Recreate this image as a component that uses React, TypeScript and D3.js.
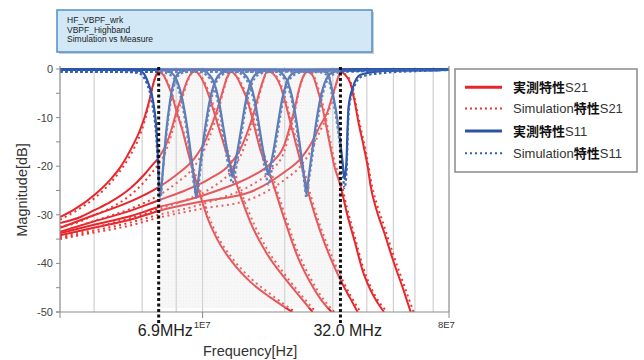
import React from 'react';
import * as d3 from 'd3';

type Pt = [number, number];

// frequency in MHz, magnitude in dB
const s21Meas1: Pt[] = [[3.0,-30.5],[3.41,-28.8],[4.03,-25.8],[4.58,-22.8],[4.98,-20.3],[5.42,-16.8],[5.9,-12.5],[6.16,-9.5],[6.42,-5.8],[6.58,-3.2],[6.75,-1.3],[6.92,-0.6],[7.17,-1.2],[7.41,-2.8],[7.73,-5.5],[8.0,-8.5],[8.42,-12.5],[8.78,-16.5],[9.39,-22.5],[9.8,-26],[10.4,-30.5],[11.3,-35],[12.95,-40],[14.96,-43.8],[17.71,-47],[21.3,-50]];
const s21Sim1: Pt[] = [[3.0,-31],[3.41,-29.3],[4.03,-26.5],[4.58,-23.5],[4.98,-21],[5.42,-17.8],[5.9,-13.5],[6.16,-10.3],[6.42,-6.2],[6.58,-3.4],[6.75,-1.3],[6.92,-0.5],[7.17,-1.0],[7.41,-2.5],[7.73,-5.0],[8.0,-8.0],[8.42,-12.0],[8.78,-15.8],[9.39,-21.5],[9.8,-25],[10.4,-29.5],[11.3,-34.2],[12.95,-39.2],[14.96,-43],[17.71,-46.3],[21.8,-50]];

const s21Meas2: Pt[] = [[3.0,-31.7],[3.55,-30.5],[4.03,-29.0],[4.58,-27.4],[5.42,-24.6],[6.16,-21.5],[6.42,-20.3],[6.9,-18.2],[7.29,-16],[7.73,-12],[8.0,-9],[8.42,-5.3],[8.78,-2.4],[9.08,-0.9],[9.39,-0.5],[9.72,-1.2],[10.22,-3.5],[10.67,-6.4],[11.3,-11],[12.11,-16.5],[12.95,-21.5],[13.74,-26],[14.96,-31.5],[17.2,-38],[19.96,-43],[22.83,-47],[25.3,-50]];
const s21Sim2: Pt[] = [[3.0,-32.5],[3.55,-31.4],[4.03,-30.0],[4.58,-28.6],[5.42,-26],[6.16,-23],[6.42,-21.8],[6.9,-19.5],[7.29,-17.2],[7.73,-13],[8.0,-10],[8.42,-6],[8.78,-2.8],[9.08,-1.0],[9.39,-0.4],[9.72,-0.9],[10.22,-3],[10.67,-5.6],[11.3,-10],[12.11,-15.3],[12.95,-20.2],[13.74,-24.8],[14.96,-30.2],[17.2,-37],[19.96,-42.2],[22.83,-46.3],[26.0,-50]];

const s21Meas3: Pt[] = [[3.0,-32.7],[4.03,-30.0],[5.42,-27.3],[6.9,-24.3],[8.0,-21.8],[9.39,-18.2],[10.22,-14.8],[10.85,-11.2],[11.42,-7.6],[11.91,-4.1],[12.32,-1.6],[12.74,-0.6],[13.29,-1.5],[13.86,-3.5],[14.58,-6.4],[15.34,-11],[16.28,-16.7],[17.71,-22],[19.96,-31],[22.25,-38.5],[24.84,-44],[27.03,-47.3],[29.67,-50]];
const s21Sim3: Pt[] = [[3.0,-33.6],[4.03,-31.2],[5.42,-28.8],[6.9,-26],[8.0,-23.5],[9.39,-19.8],[10.22,-16.2],[10.85,-12.4],[11.42,-8.4],[11.91,-4.6],[12.32,-1.8],[12.74,-0.5],[13.29,-1.2],[13.86,-3.0],[14.58,-5.8],[15.34,-10],[16.28,-15.5],[17.71,-20.8],[19.96,-29.8],[22.25,-37.4],[24.84,-43],[27.03,-46.5],[30.4,-50]];

const s21Meas4: Pt[] = [[3.0,-33.5],[4.03,-31.3],[5.42,-29.2],[6.9,-27],[8.63,-25],[10.67,-22.5],[12.63,-19.5],[13.74,-16.5],[14.7,-12.5],[15.5,-8.5],[16.1,-5],[16.7,-2.2],[17.1,-0.8],[17.6,-0.6],[18.48,-1.5],[19.28,-3.5],[20.11,-7],[21.3,-12.5],[22.83,-19],[24.84,-27],[27.03,-33.5],[30,-40],[32.4,-44],[34.84,-47.3],[37.0,-50]];
const s21Sim4: Pt[] = [[3.0,-34.6],[4.03,-32.6],[5.42,-30.7],[6.9,-28.8],[8.63,-27],[10.67,-24.6],[12.63,-21.2],[13.74,-18],[14.7,-13.8],[15.5,-9.4],[16.1,-5.6],[16.7,-2.5],[17.1,-0.8],[17.6,-0.5],[18.48,-1.2],[19.28,-3.0],[20.11,-6.2],[21.3,-11.4],[22.83,-17.8],[24.84,-25.8],[27.03,-32.4],[30,-39],[32.4,-43.2],[34.84,-46.6],[37.9,-50]];

const s21Meas5: Pt[] = [[3.0,-33.8],[4.03,-32],[5.42,-30.3],[6.9,-28.4],[9.01,-26.8],[11.61,-24.8],[14.96,-22.2],[17.71,-19.5],[19.96,-15.5],[20.98,-11.5],[21.88,-7.5],[22.6,-4],[23.4,-1.5],[24.2,-0.6],[25.3,-1.3],[26.3,-4],[27.5,-8],[28.9,-14],[30.4,-20],[32.0,-24],[33.9,-30],[36.3,-36],[38.6,-41.5],[41.26,-45.5],[46.2,-50]];
const s21Sim5: Pt[] = [[3.0,-34.8],[4.03,-33.2],[5.42,-31.6],[6.9,-30],[9.01,-28.5],[11.61,-26.6],[14.96,-24],[17.71,-21],[19.96,-16.8],[20.98,-12.5],[21.88,-8.2],[22.6,-4.4],[23.4,-1.6],[24.2,-0.5],[25.3,-1.0],[26.3,-3.3],[27.5,-7],[28.9,-12.8],[30.4,-18.8],[32.0,-22.8],[33.9,-28.8],[36.3,-35],[38.6,-40.5],[41.26,-44.8],[47.5,-50]];

const s21Meas6: Pt[] = [[3.0,-34.2],[4.03,-32.6],[5.42,-31],[6.9,-29.2],[9.8,-27.3],[14.96,-25.3],[19.96,-21.2],[22.83,-18.5],[24.84,-15.6],[27.03,-11.5],[28.7,-8.8],[29.9,-5.5],[30.69,-3.5],[31.47,-1.5],[32.28,-0.6],[33.4,-1.3],[34.84,-3],[36.02,-6.5],[37.27,-11],[38.96,-16],[40.4,-20.5],[41.26,-24],[43.4,-29],[46.2,-33.5],[50,-39.5],[54.5,-45.5],[57.9,-50]];
const s21Sim6: Pt[] = [[3.0,-35],[4.03,-33.6],[5.42,-32.2],[6.9,-30.6],[9.8,-28.8],[14.96,-26.8],[19.96,-22.8],[22.83,-20],[24.84,-17],[27.03,-12.6],[28.7,-9.5],[29.9,-6],[30.69,-3.8],[31.47,-1.6],[32.28,-0.5],[33.4,-1.1],[34.84,-2.6],[36.02,-5.8],[37.27,-10],[38.96,-15],[40.4,-19.4],[41.26,-22.6],[43.4,-27.6],[46.2,-32.2],[50,-38.2],[54.5,-44.2],[59.3,-50]];

const s11Meas1: Pt[] = [[3,-0.1],[5,-0.2],[5.9,-0.4],[6.3,-2.7],[6.59,-6.8],[6.76,-12],[6.87,-19],[6.99,-26],[7.17,-20],[7.35,-13],[7.6,-6.5],[7.86,-2.5],[8.28,-0.6],[9,-0.2],[20,-0.1],[80,0]];
const s11Sim1: Pt[] = [[3,-0.5],[5,-0.6],[5.8,-0.8],[6.25,-3],[6.55,-7.5],[6.74,-13],[6.86,-20],[6.99,-27],[7.15,-21],[7.35,-14],[7.62,-7],[7.9,-3],[8.35,-0.9],[9.2,-0.5],[20,-0.4],[80,-0.2]];
const s11Meas2: Pt[] = [[3,-0.1],[7.0,-0.2],[7.67,-0.8],[8.13,-3],[8.41,-6],[8.78,-12],[9.08,-18],[9.31,-23],[9.47,-26.5],[9.63,-23],[9.88,-18],[10.22,-12],[10.66,-6],[11.03,-3],[11.7,-0.8],[12.73,-0.3],[80,0]];
const s11Sim2: Pt[] = [[3,-0.5],[7.0,-0.6],[7.6,-1.2],[8.1,-3.6],[8.38,-6.8],[8.76,-13],[9.06,-19],[9.3,-24],[9.47,-26],[9.65,-24],[9.9,-19],[10.25,-13],[10.7,-6.8],[11.08,-3.5],[11.78,-1.2],[12.9,-0.6],[80,-0.2]];
const s11Meas3: Pt[] = [[3,-0.1],[9.8,-0.2],[10.4,-0.8],[11.04,-3],[11.42,-6],[11.91,-12],[12.32,-17],[12.63,-20],[12.85,-22.2],[13.07,-20],[13.4,-17],[13.87,-12],[14.46,-6],[14.96,-3],[15.87,-0.8],[17.27,-0.3],[80,0]];
const s11Sim3: Pt[] = [[3,-0.5],[9.8,-0.6],[10.3,-1.2],[10.98,-3.6],[11.38,-6.8],[11.88,-13],[12.28,-18.5],[12.6,-22],[12.85,-23.5],[13.1,-22],[13.45,-18.5],[13.92,-13],[14.52,-6.8],[15.05,-3.5],[16,-1.2],[17.5,-0.6],[80,-0.2]];
const s11Meas4: Pt[] = [[3,-0.1],[13.4,-0.2],[14.09,-0.8],[14.95,-3],[15.47,-6],[16.14,-12],[16.69,-17],[17.12,-20],[17.41,-21.8],[17.71,-20],[18.16,-17],[18.79,-12],[19.6,-6],[20.27,-3],[21.51,-0.8],[23.4,-0.3],[80,0]];
const s11Sim4: Pt[] = [[3,-0.5],[13.4,-0.6],[13.95,-1.2],[14.88,-3.6],[15.42,-6.8],[16.1,-13],[16.65,-18.5],[17.1,-22],[17.41,-23.8],[17.74,-22],[18.2,-18.5],[18.85,-13],[19.68,-6.8],[20.36,-3.5],[21.7,-1.2],[23.7,-0.6],[80,-0.2]];
const s11Meas5: Pt[] = [[3,-0.1],[18.6,-0.2],[19.44,-0.8],[20.62,-3],[21.33,-6],[22.25,-12],[23.02,-18],[23.61,-22.5],[24.01,-25.7],[24.42,-22.5],[25.05,-18],[25.91,-12],[27.03,-6],[27.95,-3],[29.66,-0.8],[32.28,-0.3],[80,0]];
const s11Sim5: Pt[] = [[3,-0.5],[18.6,-0.6],[19.3,-1.2],[20.55,-3.6],[21.28,-6.8],[22.2,-13],[23,-19],[23.6,-23.5],[24.01,-26.5],[24.44,-23.5],[25.1,-19],[26.0,-13],[27.15,-6.8],[28.1,-3.5],[29.9,-1.2],[32.7,-0.6],[80,-0.2]];
const s11Meas6: Pt[] = [[3,-0.1],[20,-0.1],[27,-0.3],[28.68,-0.8],[30,-5],[31.47,-12],[32.56,-19],[33.11,-22.6],[33.67,-19],[34.0,-12],[34.25,-8],[35.43,-4],[37.91,-1.2],[46,-0.4],[63,-0.1],[80,0]];
const s11Sim6: Pt[] = [[3,-0.5],[20,-0.5],[27,-0.7],[28.6,-1.3],[29.9,-5.8],[31.4,-13],[32.5,-20],[33.11,-24.5],[33.7,-21],[34.05,-13],[34.35,-8.5],[35.6,-4.3],[38.2,-1.6],[46,-0.8],[63,-0.4],[80,-0.2]];

const s21Meas = [s21Meas1, s21Meas2, s21Meas3, s21Meas4, s21Meas5, s21Meas6];
const s21Sim = [s21Sim1, s21Sim2, s21Sim3, s21Sim4, s21Sim5, s21Sim6];
const s11Meas = [s11Meas1, s11Meas2, s11Meas3, s11Meas4, s11Meas5, s11Meas6];
const s11Sim = [s11Sim1, s11Sim2, s11Sim3, s11Sim4, s11Sim5, s11Sim6];

const gridMHz = [4, 6, 8, 10, 20, 30, 40, 50, 60, 70];
const yTicks = [0, -5, -10, -15, -20, -25, -30, -35, -40, -45, -50];
const yLabels = [0, -10, -20, -30, -40, -50];
const bandEdges = [6.9, 32];
const bandEdgeLabels = ['6.9MHz', '32.0 MHz'];
const xTickLabels: [number, string][] = [[10, '1E7'], [80, '8E7']];
const titleLines = ['HF_VBPF_wrk', 'VBPF_Highband', 'Simulation vs Measure'];

const RED = '#e8252a';
const RED_SIM = '#ec3434';
const BLUE = '#2b53a4';
const BLUE_SIM = '#3560b3';

const legendItems = [
  { pre: '', cjk: '実測特性', tail: 'S21', color: RED, dash: null },
  { pre: 'Simulation', cjk: '特性', tail: 'S21', color: RED_SIM, dash: '2,3' },
  { pre: '', cjk: '実測特性', tail: 'S11', color: BLUE, dash: null },
  { pre: 'Simulation', cjk: '特性', tail: 'S11', color: BLUE_SIM, dash: '2,3' },
];

const LATIN = '"Liberation Sans", Arial, sans-serif';
const CJK = '"Noto Sans CJK JP", sans-serif';

export default function App() {
  const x = d3.scaleLog().domain([3, 80]).range([60, 449]);
  const y = d3.scaleLinear().domain([-50, 0]).range([312, 69]);
  const line = d3.line<Pt>().x(d => x(d[0])).y(d => y(d[1])).curve(d3.curveMonotoneX);

  const shadeX0 = x(bandEdges[0]);
  const shadeX1 = x(bandEdges[1]);

  return (
    <div style={{ position: 'absolute', left: 0, top: 0 }}>
      <svg width={644} height={360} style={{ display: 'block', background: '#fff' }}>
        <defs>
          <clipPath id="plotClip">
            <rect x={60} y={63} width={389} height={249} />
          </clipPath>
          <pattern id="shadeTex" width={3} height={3} patternUnits="userSpaceOnUse">
            <rect width={3} height={3} fill="#e2e2e2" />
            <rect width={1} height={1} fill="#c6c6c6" />
          </pattern>
        </defs>

        {/* title box */}
        <rect x={59} y={12} width={315} height={42} fill="#9a9a9a" opacity={0.5} />
        <rect x={57} y={10} width={315} height={42} fill="#d2e8f6" stroke="#4f8fcb" strokeWidth={1.5} />
        {titleLines.map((t, i) => (
          <text key={t} x={67} y={23 + i * 9.5} fontFamily={LATIN} fontSize={8.5} fill="#222">{t}</text>
        ))}

        {/* vertical grid */}
        {gridMHz.map(g => (
          <line key={g} x1={x(g)} x2={x(g)} y1={67} y2={312} stroke="#c6c6c6" strokeWidth={1} />
        ))}

        {/* curves */}
        <g clipPath="url(#plotClip)" fill="none" strokeLinecap="butt">
          {s21Meas.map((d, i) => (
            <path key={'rm' + i} d={line(d) || ''} stroke={RED} strokeWidth={2} />
          ))}
          {s21Sim.map((d, i) => (
            <path key={'rs' + i} d={line(d) || ''} stroke={RED_SIM} strokeWidth={2} strokeDasharray="2,3.5" />
          ))}
          {s11Meas.map((d, i) => (
            <path key={'bm' + i} d={line(d) || ''} stroke={BLUE} strokeWidth={2.2} />
          ))}
          {s11Sim.map((d, i) => (
            <path key={'bs' + i} d={line(d) || ''} stroke={BLUE_SIM} strokeWidth={2.2} strokeDasharray="2.5,2.5" />
          ))}
        </g>

        {/* shaded band between 6.9 MHz and 32 MHz */}
        <rect x={shadeX0} y={67} width={shadeX1 - shadeX0} height={241} fill="url(#shadeTex)" opacity={0.28} />

        {/* axes */}
        <line x1={60} x2={60} y1={66} y2={312} stroke="#8a8a8a" strokeWidth={1.2} />
        <line x1={449} x2={449} y1={66} y2={312} stroke="#8a8a8a" strokeWidth={1.2} />
        <line x1={56} x2={449} y1={312} y2={312} stroke="#8a8a8a" strokeWidth={1.2} />
        {yTicks.map(t => (
          <line key={t} x1={56} x2={60} y1={y(t)} y2={y(t)} stroke="#8a8a8a" strokeWidth={1} />
        ))}
        {yLabels.map(t => (
          <text key={t} x={53} y={y(t) + 4} textAnchor="end" fontFamily={LATIN} fontSize={11} fill="#444">{t}</text>
        ))}
        {[3, 10, 80].map(t => (
          <line key={t} x1={x(t)} x2={x(t)} y1={312} y2={318} stroke="#8a8a8a" strokeWidth={1} />
        ))}
        {xTickLabels.map(([v, s]) => (
          <text key={s} x={v === 80 ? x(v) - 11 : x(v) - 9} y={328} fontFamily={LATIN} fontSize={9.5} fill="#333">{s}</text>
        ))}

        {/* band edge markers */}
        {bandEdges.map(b => (
          <line key={b} x1={x(b)} x2={x(b)} y1={67} y2={323} stroke="#111" strokeWidth={3} strokeDasharray="3,2.5" />
        ))}
        {bandEdges.map((b, i) => (
          <text key={'l' + b} x={i === 0 ? x(b) - 21 : x(b) - 27} y={336} fontFamily={LATIN} fontSize={16} fill="#222">{bandEdgeLabels[i]}</text>
        ))}

        <text x={203} y={355.5} fontFamily={LATIN} fontSize={14.5} fill="#333">Frequency[Hz]</text>
        <text transform="translate(27,190) rotate(-90)" textAnchor="middle" fontFamily={LATIN} fontSize={14.5} fill="#333">Magnitude[dB]</text>

        {/* legend */}
        <rect x={455} y={69} width={182} height={103} fill="#fff" stroke="#8a8a8a" strokeWidth={1.5} />
        {legendItems.map((it, i) => {
          const ly = [87.3, 108.5, 131, 153.3][i];
          return (
            <g key={i}>
              <line x1={465} x2={502} y1={ly} y2={ly} stroke={it.color} strokeWidth={it.dash ? 2 : 3} strokeDasharray={it.dash || undefined} />
              <text x={513} y={ly + 4.5} fontSize={13} fontFamily={LATIN} fill="#333">
                {it.pre && <tspan>{it.pre}</tspan>}
                <tspan fontFamily={CJK} fontWeight="bold" fill="#111">{it.cjk}</tspan>
                <tspan>{it.tail}</tspan>
              </text>
            </g>
          );
        })}
      </svg>
    </div>
  );
}
